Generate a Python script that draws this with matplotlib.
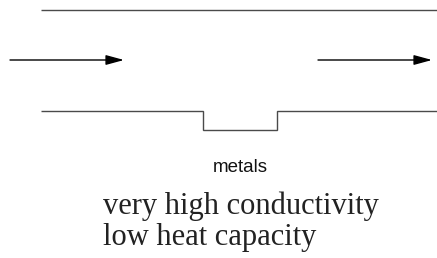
import matplotlib
matplotlib.use("Agg")
import matplotlib.pyplot as plt

# wall profiles (pixel coordinates of the sketch, y downward)
top_wall_x = [41, 437]
top_wall_y = [10, 10]
bottom_wall_x = [41, 203, 203, 277, 277, 437]
bottom_wall_y = [111, 111, 130, 130, 111, 111]

# flow arrows: (x_start, x_end, y)
arrows = [(10, 124, 60), (318, 432, 60)]

label_top = "metals"
label_lines = ["very high conductivity", "low heat capacity"]

fig = plt.figure(figsize=(4.37, 2.58), dpi=100)
ax = fig.add_axes([0, 0, 1, 1])
ax.set_xlim(0, 437)
ax.set_ylim(258, 0)
ax.axis("off")

ax.plot(top_wall_x, top_wall_y, color="#4a4a4a", lw=1.0, solid_capstyle="butt")
ax.plot(bottom_wall_x, bottom_wall_y, color="#4a4a4a", lw=1.0,
        solid_capstyle="butt", solid_joinstyle="miter")

for x0, x1, y in arrows:
    ax.annotate("", xy=(x1, y), xytext=(x0, y),
                arrowprops=dict(arrowstyle="-|>,head_length=1.1,head_width=0.3",
                                color="black", lw=1.0, shrinkA=0, shrinkB=0))

ax.text(240, 172.5, label_top, ha="center", va="baseline",
        fontsize=13.5, family="Liberation Sans", color="#111111")
ax.text(103, 214, label_lines[0], ha="left", va="baseline",
        fontsize=22, family="Liberation Serif", color="#222222")
ax.text(103, 245, label_lines[1], ha="left", va="baseline",
        fontsize=22, family="Liberation Serif", color="#222222")

fig.savefig("out.png", dpi=100)
